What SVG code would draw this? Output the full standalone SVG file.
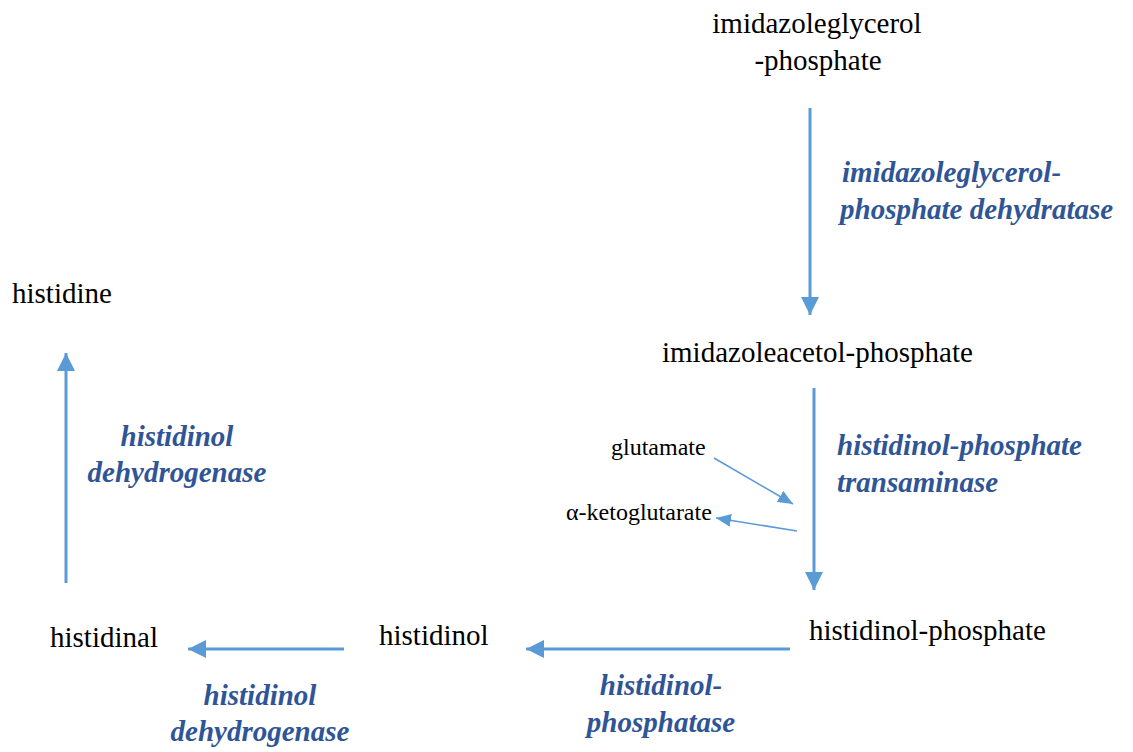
<svg xmlns="http://www.w3.org/2000/svg" width="1133" height="752" viewBox="0 0 1133 752">
<defs>
<style>
.t{font-family:"Liberation Serif","Times New Roman",serif;font-size:29px;fill:#000}
.s{font-family:"Liberation Serif","Times New Roman",serif;font-size:24px;fill:#000}
.e{font-family:"Liberation Serif","Times New Roman",serif;font-size:29px;font-weight:bold;font-style:italic;fill:#2F5597}
.a{stroke:#5B9BD5;stroke-width:3;fill:none}
.b{stroke:#5B9BD5;stroke-width:1.5;fill:none}
</style>
<marker id="big" markerUnits="userSpaceOnUse" viewBox="0 0 18 18" markerWidth="18" markerHeight="18" refX="18" refY="9" orient="auto">
<path d="M0,0 L18,9 L0,18 z" fill="#5B9BD5"/>
</marker>
<marker id="small" markerUnits="userSpaceOnUse" viewBox="0 0 15 13" markerWidth="15" markerHeight="13" refX="15" refY="6.5" orient="auto">
<path d="M0,0 L15,6.5 L0,13 z" fill="#5B9BD5"/>
</marker>
</defs>
<g id="connectors">
<line class="a" x1="810" y1="108" x2="810" y2="315" marker-end="url(#big)"/>
<line class="a" x1="814" y1="388" x2="814" y2="590" marker-end="url(#big)"/>
<line class="a" x1="66" y1="583" x2="66" y2="353" marker-end="url(#big)"/>
<line class="a" x1="790" y1="649" x2="526" y2="649" marker-end="url(#big)"/>
<line class="a" x1="344" y1="649" x2="188" y2="649" marker-end="url(#big)"/>
<line class="b" x1="714" y1="458" x2="793" y2="504" marker-end="url(#small)"/>
<line class="b" x1="797" y1="531" x2="716" y2="518" marker-end="url(#small)"/>
</g>
<g id="n-igp"><text class="t" x="817" y="33" text-anchor="middle">imidazoleglycerol</text><text class="t" x="818" y="70" text-anchor="middle">-phosphate</text></g>
<g id="e-igpd"><text class="e" x="842" y="182">imidazoleglycerol-</text><text class="e" x="840" y="219">phosphate dehydratase</text></g>
<g id="n-iap"><text class="t" x="662" y="362">imidazoleacetol-phosphate</text></g>
<g id="e-hpt"><text class="e" x="837" y="455">histidinol-phosphate</text><text class="e" x="837" y="492">transaminase</text></g>
<g id="n-glu"><text class="s" x="611" y="455">glutamate</text></g>
<g id="n-akg"><text class="s" x="566" y="520">α-ketoglutarate</text></g>
<g id="n-hp"><text class="t" x="809" y="640">histidinol-phosphate</text></g>
<g id="e-hpp"><text class="e" x="661" y="695" text-anchor="middle">histidinol-</text><text class="e" x="661" y="732" text-anchor="middle">phosphatase</text></g>
<g id="n-hol"><text class="t" x="379" y="645">histidinol</text></g>
<g id="e-hdh1"><text class="e" x="260" y="705" text-anchor="middle">histidinol</text><text class="e" x="260" y="741" text-anchor="middle">dehydrogenase</text></g>
<g id="n-hal"><text class="t" x="50" y="647">histidinal</text></g>
<g id="e-hdh2"><text class="e" x="177" y="446" text-anchor="middle">histidinol</text><text class="e" x="177" y="482" text-anchor="middle">dehydrogenase</text></g>
<g id="n-his"><text class="t" x="12" y="303">histidine</text></g>
</svg>
